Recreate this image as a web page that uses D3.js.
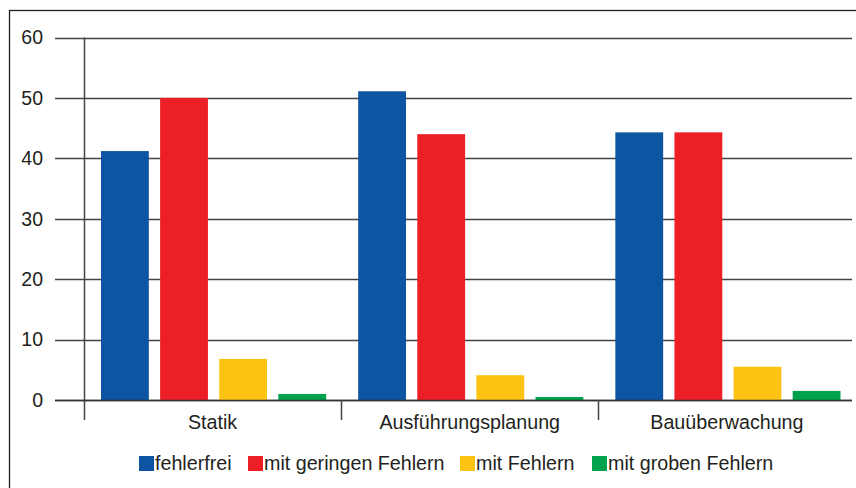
<!DOCTYPE html>
<html><head><meta charset="utf-8">
<script src="https://cdn.jsdelivr.net/npm/d3@7"></script>
<style>body{margin:0;background:#fff}svg{display:block}text{font-family:"Liberation Sans",Arial,sans-serif;fill:#231f20}</style>
</head><body><svg id="c" width="856" height="488"></svg>
<script>
const categories = ["Statik", "Ausführungsplanung", "Bauüberwachung"];
const seriesNames = ["fehlerfrei", "mit geringen Fehlern", "mit Fehlern", "mit groben Fehlern"];
const fehlerfrei = [41.2, 51.1, 44.3];
const geringeFehler = [50.0, 44.0, 44.3];
const mitFehlern = [6.8, 4.1, 5.5];
const grobeFehler = [1.0, 0.5, 1.5];
const yTicks = [0, 10, 20, 30, 40, 50, 60];
const colors = ["#0d55a2", "#ec1f27", "#fdc313", "#00a24b"];

const series = [fehlerfrei, geringeFehler, mitFehlern, grobeFehler];
const svg = d3.select("#c");

// frame
svg.append("rect").attr("x", 9.5).attr("y", 10.5).attr("width", 900).attr("height", 600)
  .attr("fill", "none").attr("stroke", "#231f20").attr("stroke-width", 1.3);

const y = d3.scaleLinear().domain([0, 60]).range([400, 37.5]);
const x0 = d3.scaleBand().domain(categories).range([84, 855.5]).padding(0);
const bw = x0.bandwidth();
const x1 = d3.scaleBand().domain(d3.range(4)).range([17, bw - 15]).paddingInner(0.191).paddingOuter(0);

// gridlines
svg.append("g").selectAll("line").data(yTicks).join("line")
  .attr("x1", 55).attr("x2", 852)
  .attr("y1", d => Math.round(y(d)) + 0.5).attr("y2", d => Math.round(y(d)) + 0.5)
  .attr("stroke", "#444").attr("stroke-width", 1.5);

// tick labels
svg.append("g").selectAll("text").data(yTicks).join("text")
  .attr("x", 43).attr("y", d => y(d)).attr("dy", "0.35em")
  .attr("text-anchor", "end").attr("font-size", 19.5).text(d => d);

// bars
const groups = svg.append("g").selectAll("g").data(categories).join("g")
  .attr("transform", c => `translate(${x0(c)},0)`);
groups.selectAll("rect").data((c, ci) => series.map((s, si) => ({si, v: s[ci]}))).join("rect")
  .attr("x", d => x1(d.si)).attr("width", x1.bandwidth())
  .attr("y", d => y(d.v)).attr("height", d => y(0) - y(d.v))
  .attr("fill", d => colors[d.si]);

// y axis line
svg.append("line").attr("x1", 84.5).attr("x2", 84.5).attr("y1", 37.5).attr("y2", 420)
  .attr("stroke", "#444").attr("stroke-width", 1.5);
// zero line on top
svg.append("line").attr("x1", 55).attr("x2", 852).attr("y1", 400.5).attr("y2", 400.5)
  .attr("stroke", "#333").attr("stroke-width", 1.5);
// category separators
svg.append("g").selectAll("line").data(categories.slice(1)).join("line")
  .attr("x1", c => Math.round(x0(c)) + 0.5).attr("x2", c => Math.round(x0(c)) + 0.5)
  .attr("y1", 400).attr("y2", 420).attr("stroke", "#444").attr("stroke-width", 1.5);

// category labels
svg.append("g").selectAll("text").data(categories).join("text")
  .attr("x", c => x0(c) + bw / 2).attr("y", 429).attr("text-anchor", "middle")
  .attr("font-size", 19.7).text(c => c);

// legend
const legX = [139, 248, 460, 592];
const leg = svg.append("g").selectAll("g").data(seriesNames).join("g")
  .attr("transform", (d, i) => `translate(${legX[i]},456)`);
leg.append("rect").attr("width", 15).attr("height", 15).attr("fill", (d, i) => colors[i]);
leg.append("text").attr("x", 16).attr("y", 14).attr("font-size", 19.7).text(d => d);
</script></body></html>
